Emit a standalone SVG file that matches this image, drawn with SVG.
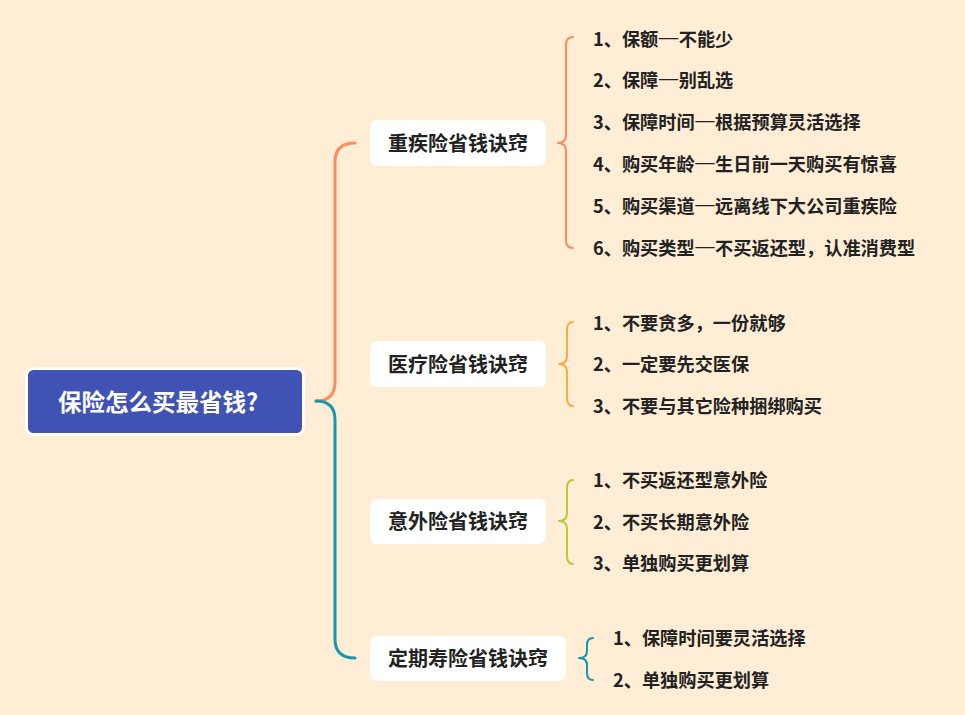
<svg xmlns="http://www.w3.org/2000/svg" width="965" height="715" viewBox="0 0 965 715">
<style>
.bg{fill:#FFEED5}
.box{fill:#FFFFFF}
.t{font-family:"Noto Sans CJK SC","Noto Sans",sans-serif;font-weight:bold;fill:#222222;dominant-baseline:central}
.branch{font-size:20px;text-anchor:middle}
.item{font-size:18.2px}
.d{font-size:12px}
.root{font-family:"Noto Sans CJK SC","Noto Sans",sans-serif;font-weight:bold;font-size:23.5px;fill:#FFFFFF;text-anchor:middle;dominant-baseline:central}
.c{fill:none;stroke-width:3;stroke-linecap:round}
.b{fill:none;stroke-width:2;stroke-linecap:round;stroke-linejoin:round}
</style>
<rect class="bg" x="0" y="0" width="965" height="715"/>
<g id="connectors">
<path class="c" stroke="#FF8A5E" d="M316,401 Q335,401 335,382 L335,162 Q335,143 355,143"/>
<path class="c" stroke="#1698AF" d="M316,401 Q335,401 335,420 L335,639 Q335,658 355,658"/>
<path class="b" stroke="#FF8A5E" d="M573,37 Q566,37 566,45 L566,135 Q566,143 558,143 Q566,143 566,151 L566,240 Q566,248 573,248"/>
<path class="b" stroke="#F8AC3C" d="M573,322 Q567,322 567,330 L567,356 Q567,364 559,364 Q567,364 567,372 L567,398 Q567,406 573,406"/>
<path class="b" stroke="#B6C93A" d="M573,480 Q567,480 567,488 L567,513 Q567,521 559,521 Q567,521 567,529 L567,556 Q567,564 573,564"/>
<path class="b" stroke="#1698AF" d="M593,638 Q587,638 587,645 L587,651 Q587,658 579,658 Q587,658 587,665 L587,673 Q587,680 593,680"/>
</g>
<g id="root">
<rect x="26.5" y="368.5" width="277" height="66" rx="7" fill="#4152B5" stroke="#FFFFFF" stroke-width="3"/>
<text class="root" x="158" y="400.5">保险怎么买最省钱?</text>
</g>
<g id="n1">
<rect class="box" x="370" y="120" width="176" height="46" rx="7"/>
<text class="t branch" x="458" y="142">重疾险省钱诀窍</text>
</g>
<g id="n1-items">
<text class="t item" x="593" y="37.5">1、保额<tspan class="d" dy="-2">——</tspan><tspan dy="2">不能少</tspan></text>
<text class="t item" x="593" y="79">2、保障<tspan class="d" dy="-2">——</tspan><tspan dy="2">别乱选</tspan></text>
<text class="t item" x="593" y="121">3、保障时间<tspan class="d" dy="-2">——</tspan><tspan dy="2">根据预算灵活选择</tspan></text>
<text class="t item" x="593" y="163">4、购买年龄<tspan class="d" dy="-2">——</tspan><tspan dy="2">生日前一天购买有惊喜</tspan></text>
<text class="t item" x="593" y="205">5、购买渠道<tspan class="d" dy="-2">——</tspan><tspan dy="2">远离线下大公司重疾险</tspan></text>
<text class="t item" x="593" y="246.5">6、购买类型<tspan class="d" dy="-2">——</tspan><tspan dy="2">不买返还型，认准消费型</tspan></text>
</g>
<g id="n2">
<rect class="box" x="370" y="341" width="176" height="46" rx="7"/>
<text class="t branch" x="458" y="363">医疗险省钱诀窍</text>
</g>
<g id="n2-items">
<text class="t item" x="593" y="321.5">1、不要贪多，一份就够</text>
<text class="t item" x="593" y="363">2、一定要先交医保</text>
<text class="t item" x="593" y="404.5">3、不要与其它险种捆绑购买</text>
</g>
<g id="n3">
<rect class="box" x="370" y="499" width="176" height="45" rx="7"/>
<text class="t branch" x="458" y="520.5">意外险省钱诀窍</text>
</g>
<g id="n3-items">
<text class="t item" x="593" y="479">1、不买返还型意外险</text>
<text class="t item" x="593" y="521">2、不买长期意外险</text>
<text class="t item" x="593" y="562">3、单独购买更划算</text>
</g>
<g id="n4">
<rect class="box" x="370" y="636" width="196" height="45" rx="7"/>
<text class="t branch" x="468" y="657.5">定期寿险省钱诀窍</text>
</g>
<g id="n4-items">
<text class="t item" x="613" y="636.5">1、保障时间要灵活选择</text>
<text class="t item" x="613" y="678.5">2、单独购买更划算</text>
</g>
</svg>
